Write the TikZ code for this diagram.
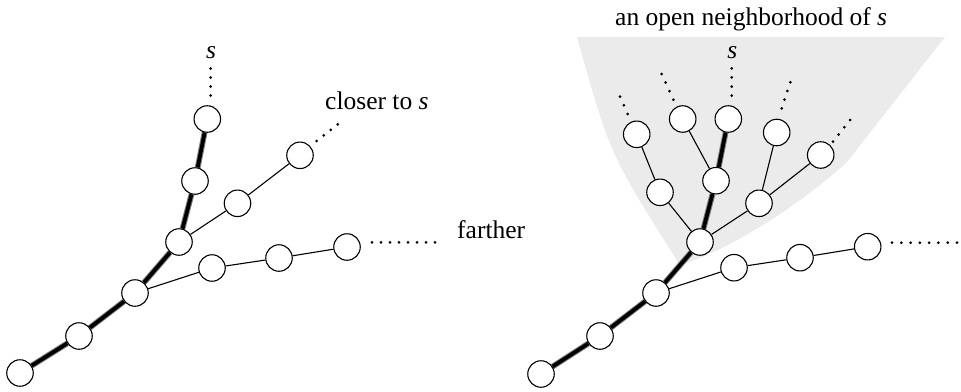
\documentclass[tikz,border=0pt]{standalone}
\usepackage{fontspec}
\setmainfont{Liberation Serif}
\usetikzlibrary{calc,backgrounds}
\definecolor{nbhd}{RGB}{235,235,235}
% a run of #3+1 evenly spaced dots from #1 to #2
\newcommand\dotrun[3]{\foreach \i in {0,...,#3} \fill ($(#1)!\i/#3!(#2)$) circle (1.5);}
\begin{document}
\begin{tikzpicture}[x=1pt, y=-1pt,
  font=\fontsize{25.5}{30}\selectfont,
  vtx/.style={circle, draw, fill=white, line width=1.1pt, minimum size=26.5pt, inner sep=0pt},
  edge/.style={line width=1.1pt},
  spine/.style={line width=3.8pt, draw=black, preaction={draw=black!50, line width=5.8pt}},
  lbl/.style={inner sep=0pt, anchor=base west}]
\useasboundingbox (0,0) rectangle (961,391);

% ---------- left tree ----------
\node[vtx] (L1) at (20,373) {};
\node[vtx] (L2) at (79,336) {};
\node[vtx] (L3) at (135,293) {};
\node[vtx] (L4) at (179,242) {};
\node[vtx] (L5) at (195,181) {};
\node[vtx] (L6) at (207.3,119) {};
\node[vtx] (A1) at (237.5,203.3) {};
\node[vtx] (A2) at (300,155.3) {};
\node[vtx] (B1) at (212,268) {};
\node[vtx] (B2) at (279,258) {};
\node[vtx] (B3) at (347,247) {};

% ---------- right tree ----------
\node[vtx] (R1) at (541,374) {};
\node[vtx] (R2) at (600,336) {};
\node[vtx] (R3) at (656,293) {};
\node[vtx] (R4) at (700,242) {};
\node[vtx] (RM) at (716,180.7) {};
\node[vtx] (RT) at (728.3,119) {};
\node[vtx] (RMT) at (682.7,119) {};
\node[vtx] (RL) at (660,192.3) {};
\node[vtx] (RLT) at (636.7,134.3) {};
\node[vtx] (RR) at (759,203.3) {};
\node[vtx] (RR1) at (776.7,132.5) {};
\node[vtx] (RR2) at (820.7,155) {};
\node[vtx] (C1) at (734,267.7) {};
\node[vtx] (C2) at (800,257.7) {};
\node[vtx] (C3) at (867.7,246.7) {};

\begin{scope}[on background layer]
  % shaded neighbourhood
  \fill[nbhd] (577,37) -- (945,37) -- (847,162)
    .. controls (800,205) and (730,250) .. (680,265)
    .. controls (610,155) .. (577,37) -- cycle;
  % edges
  \draw[spine] (L1) -- (L2) -- (L3) -- (L4) -- (L5) -- (L6);
  \draw[edge] (L4) -- (A1) -- (A2);
  \draw[edge] (L3) -- (B1) -- (B2) -- (B3);
  \draw[spine] (R1) -- (R2) -- (R3) -- (R4) -- (RM) -- (RT);
  \draw[edge] (RM) -- (RMT);
  \draw[edge] (R4) -- (RL) -- (RLT);
  \draw[edge] (R4) -- (RR) -- (RR1);
  \draw[edge] (RR) -- (RR2);
  \draw[edge] (R3) -- (C1) -- (C2) -- (C3);
\end{scope}

% dotted continuations
\coordinate (p1a) at (210.7,95.5);  \coordinate (p1b) at (210.7,68.5);
\coordinate (p2a) at (316.7,141);   \coordinate (p2b) at (337.7,124.3);
\coordinate (p3a) at (372,242.3);   \coordinate (p3b) at (435,242.3);
\coordinate (q1a) at (627.7,114);   \coordinate (q1b) at (620,96.7);
\coordinate (q2a) at (673.3,99.7);  \coordinate (q2b) at (661.7,74);
\coordinate (q3a) at (731.7,95.7);  \coordinate (q3b) at (731.7,68.3);
\coordinate (q4a) at (781.7,108.3); \coordinate (q4b) at (790.3,82.3);
\coordinate (q5a) at (833,141.7);   \coordinate (q5b) at (850,120);
\coordinate (q6a) at (892,242.7);   \coordinate (q6b) at (957,242.7);
\dotrun{p1a}{p1b}{3}
\dotrun{p2a}{p2b}{3}
\dotrun{p3a}{p3b}{7}
\dotrun{q1a}{q1b}{2}
\dotrun{q2a}{q2b}{3}
\dotrun{q3a}{q3b}{3}
\dotrun{q4a}{q4b}{3}
\dotrun{q5a}{q5b}{3}
\dotrun{q6a}{q6b}{7}

% labels
\node[inner sep=0pt, anchor=base] (sL) at (211,58.3) {\textit{s}};
\node[inner sep=0pt, anchor=base] (sR) at (732.3,58) {\textit{s}};
\node[lbl] (closer) at (325,109.3) {closer to \textit{s}};
\node[lbl] (farther) at (457,238) {farther};
\node[lbl] (open) at (615,25) {an open neighborhood of \textit{s}};
\end{tikzpicture}
\end{document}
